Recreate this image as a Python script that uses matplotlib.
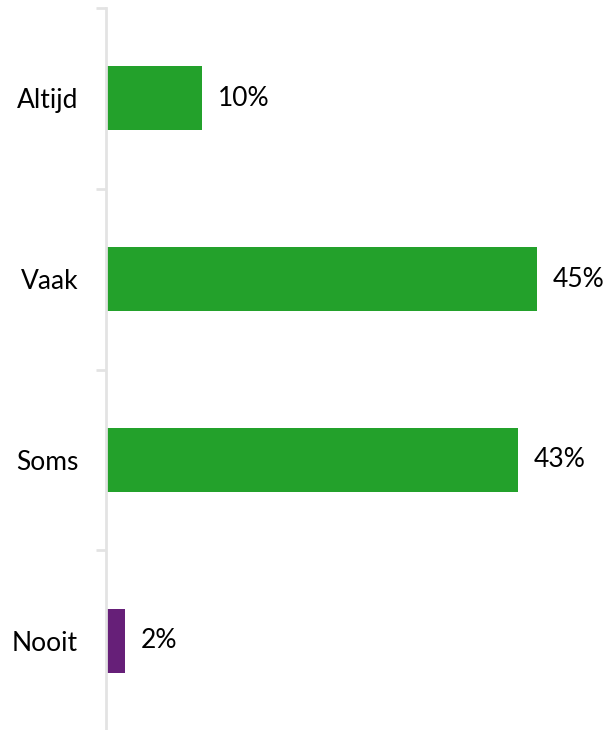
import matplotlib.pyplot as plt

categories = ['Altijd', 'Vaak', 'Soms', 'Nooit']
values = [10, 45, 43, 2]
colors = ['#23A12B', '#23A12B', '#23A12B', '#661F78']
labels = ['10%', '45%', '43%', '2%']

plt.rcParams['font.family'] = ['Lato', 'DejaVu Sans']

fig = plt.figure(figsize=(6.05, 7.3), dpi=100)
ax = fig.add_axes([106 / 605, -1 / 730, 494 / 605, 723 / 730])

pos = list(range(len(categories)))
ax.barh(pos, values, height=0.355, color=colors)

for p, v, lab in zip(pos, values, labels):
    ax.annotate(lab, (v, p), xytext=(11.5, 0), textcoords='offset points',
                va='center', ha='left', fontsize=19, color='black')

ax.set_xlim(0, 51.6)
ax.set_ylim(3.5, -0.5)
ax.set_yticks(pos)
ax.set_yticklabels(categories, fontsize=19)
ax.set_yticks([-0.5, 0.5, 1.5, 2.5, 3.5], minor=True)
ax.tick_params(axis='y', which='major', length=0, pad=20)
ax.tick_params(axis='y', which='minor', length=7, width=2, color='#E3E3E3')
ax.set_xticks([])

for s in ['top', 'right', 'bottom']:
    ax.spines[s].set_visible(False)
ax.spines['left'].set_color('#E3E3E3')
ax.spines['left'].set_linewidth(2)

fig.savefig('out.png', dpi=100)
